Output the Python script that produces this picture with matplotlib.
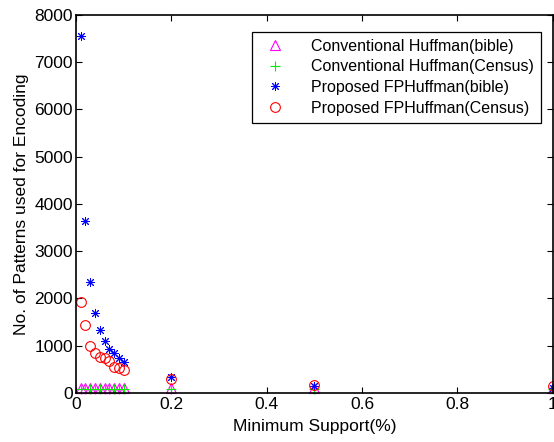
import matplotlib
matplotlib.use("Agg")
import matplotlib.pyplot as plt

# minimum support values (%)
support = [0.01, 0.02, 0.03, 0.04, 0.05, 0.06, 0.07, 0.08, 0.09, 0.1, 0.2, 0.5, 1.0]

# number of patterns used for encoding
conv_bible = [90, 90, 90, 90, 90, 90, 90, 90, 90, 90, 90, 90, 90]
conv_census = [85, 85, 85, 85, 85, 85, 85, 85, 85, 85, 85, 85, 85]
fp_bible = [7550, 3640, 2340, 1690, 1330, 1100, 930, 835, 745, 660, 330, 140, 100]
fp_census = [1920, 1430, 990, 850, 760, 730, 670, 550, 520, 480, 280, 165, 150]

plt.rcParams['font.family'] = ['Liberation Sans', 'DejaVu Sans']

fig = plt.figure(figsize=(5.54, 4.42), dpi=100)
ax = fig.add_axes([0.137, 0.1115, 0.861, 0.8545])

ax.plot(support, conv_bible, linestyle='none', marker='^', markersize=6.5,
        markerfacecolor='none', markeredgecolor='magenta', markeredgewidth=0.8,
        label='Conventional Huffman(bible)', clip_on=False)
ax.plot(support, conv_census, linestyle='none', marker='+', markersize=7,
        color='#00ee00', markeredgewidth=0.8,
        label='Conventional Huffman(Census)', clip_on=False)
ax.plot(support, fp_bible, linestyle='none', marker=(8, 2, 0), markersize=6.5,
        color='blue', markeredgewidth=0.7,
        label='Proposed FPHuffman(bible)', clip_on=False)
ax.plot(support, fp_census, linestyle='none', marker='o', markersize=7,
        markerfacecolor='none', markeredgecolor='red', markeredgewidth=0.8,
        label='Proposed FPHuffman(Census)', clip_on=False)

ax.set_xlim(0, 1)
ax.set_ylim(0, 8000)
ax.set_xticks([0, 0.2, 0.4, 0.6, 0.8, 1])
ax.set_xticklabels(['0', '0.2', '0.4', '0.6', '0.8', '1'])
ax.set_yticks(range(0, 8001, 1000))
ax.tick_params(direction='in', labelsize=12.5, length=4, width=0.8, pad=2,
               top=True, right=True)
ax.tick_params(axis='x', pad=3)
for s in ax.spines.values():
    s.set_linewidth(1.2)

ax.set_xlabel('Minimum Support(%)', fontsize=12.5, labelpad=5)
ax.set_ylabel('No. of Patterns used for Encoding', fontsize=12.5, labelpad=4)

leg = ax.legend(loc='upper right', bbox_to_anchor=(0.991, 0.977), fontsize=11.5,
                fancybox=False, framealpha=1, edgecolor='black',
                borderpad=0.45, labelspacing=0.35, handletextpad=1.2)
leg.get_frame().set_linewidth(0.9)

fig.savefig('out.png', dpi=100)
